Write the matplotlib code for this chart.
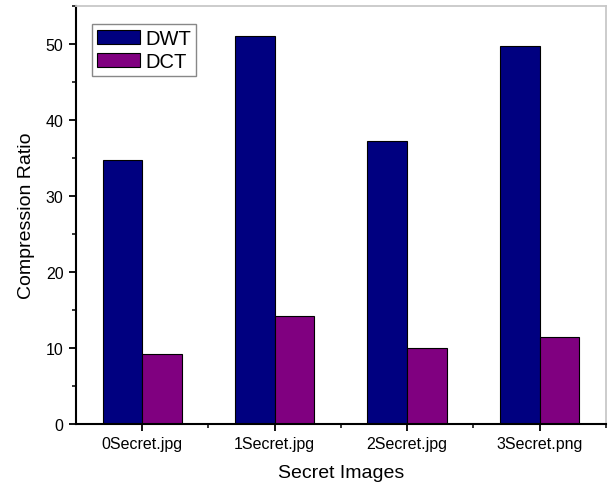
import numpy as np
import matplotlib.pyplot as plt
from matplotlib.ticker import MultipleLocator

plt.rcParams['font.family'] = ['Liberation Sans', 'DejaVu Sans']

# datos
images = ['0Secret.jpg', '1Secret.jpg', '2Secret.jpg', '3Secret.png']
dwt = [34.8, 51.0, 37.3, 49.8]
dct = [9.2, 14.2, 10.0, 11.4]

fig = plt.figure(figsize=(6.1, 4.89), dpi=100)
ax = fig.add_axes([0.1246, 0.1309, 0.8688, 0.8548])

x = np.arange(1, len(images) + 1)
w = 0.3
ax.bar(x - w/2, dwt, w, color='#000080', edgecolor='black', linewidth=0.8, label='DWT')
ax.bar(x + w/2, dct, w, color='#800080', edgecolor='black', linewidth=0.8, label='DCT')

ax.set_xlim(0.5, 4.5)
ax.set_ylim(0, 55)
ax.set_xticks(x)
ax.set_xticklabels(images, fontsize=11.5)
ax.xaxis.set_minor_locator(plt.FixedLocator(x + 0.5))
ax.yaxis.set_major_locator(MultipleLocator(10))
ax.yaxis.set_minor_locator(MultipleLocator(5))
ax.tick_params(axis='y', labelsize=11.5)

ax.tick_params(which='major', direction='out', length=5, width=1.3, pad=4)
ax.tick_params(which='minor', direction='out', length=3, width=1.1)

for s in ['left', 'bottom']:
    ax.spines[s].set_linewidth(1.5)
    ax.spines[s].set_color('black')
for s in ['top', 'right']:
    ax.spines[s].set_linewidth(1.3)
    ax.spines[s].set_color('#c8c8c8')

ax.set_xlabel('Secret Images', fontsize=14, labelpad=9)
ax.set_ylabel('Compression Ratio', fontsize=14, labelpad=8)

leg = ax.legend(loc='upper left', bbox_to_anchor=(0.030, 0.957), fontsize=14.5,
                fancybox=False, edgecolor='#888888', framealpha=1,
                handlelength=2.15, handleheight=0.75, handletextpad=0.25,
                borderpad=0.25, labelspacing=0.2, borderaxespad=0)
leg.get_frame().set_linewidth(1.0)

fig.savefig('out.png', dpi=100)
